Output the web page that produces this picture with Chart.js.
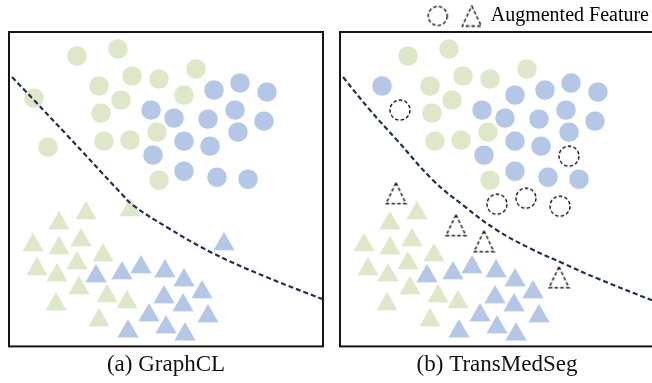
<!DOCTYPE html>
<html lang="en">
<head>
    <meta charset="UTF-8">
    <title>GraphCL vs TransMedSeg feature space</title>
    <script src="https://cdn.jsdelivr.net/npm/chart.js"></script>
    <style>
        html, body { margin: 0; padding: 0; background: #fff; overflow: hidden; width: 652px; height: 383px; }
        canvas { position: absolute; top: 0; }
        #panelA { left: 8px; }
        #panelB { left: 339px; }
    </style>
</head>
<body>
    <canvas id="panelA" width="316" height="383"></canvas>
    <canvas id="panelB" width="316" height="383"></canvas>

    <script>
        // positions, panel-local (origin at the box's top-left corner)
        const captions = ['(a) GraphCL', '(b) TransMedSeg'];
        const legendText = 'Augmented Feature';

        // (a) GraphCL
        const greenCirclesA = [[69,25],[110,18],[26,67],[91,55],[124,45],[151,48],[188,38],[113,69],[176,64],
                               [93,82],[40,116],[96,110],[122,109],[149,101],[151,149]];
        const blueCirclesA = [[206,59],[232,52],[259,61],[143,79],[166,87],[200,88],[227,79],[256,90],[230,101],
                              [176,110],[202,115],[145,124],[176,140],[209,146],[240,148]];
        const greenTrianglesA = [[78,182],[51,192],[122,179],[25,214],[51,217],[73,209],[95,224],[29,238],
                                 [49,244],[69,232],[71,257],[99,265],[119,271],[48,273],[91,289]];
        const blueTrianglesA = [[216,213],[88,245],[114,242],[133,236],[157,240],[176,249],[194,261],[156,266],
                                [175,274],[141,284],[158,296],[120,300],[177,303],[200,285]];
        const boundaryA = [[4,46],[26,69],[59,104],[113,162],[125,174],[159,196],[205,222],[259,246],[315,268]];

        // (b) TransMedSeg
        const greenCirclesB = [[69,25],[110,18],[91,55],[124,45],[151,48],[188,38],[113,69],
                               [93,82],[96,110],[122,109],[149,101],[151,149]];
        const blueCirclesB = [[43,55],[176,64],[206,59],[232,52],[259,61],[143,79],[166,87],[200,88],[227,79],
                              [256,90],[230,101],[176,110],[202,115],[145,124],[176,140],[209,146],[240,148]];
        const greenTrianglesB = [[78,182],[51,192],[25,214],[51,217],[73,209],[95,224],[29,238],
                                 [49,244],[69,232],[71,257],[99,265],[119,271],[48,273],[91,289]];
        const blueTrianglesB = [[88,245],[114,242],[133,236],[157,240],[176,249],[194,261],[156,266],
                                [175,274],[141,284],[158,296],[120,300],[177,303],[200,285]];
        const augCirclesB = [[61,79],[230,125],[158,173],[187,167],[221,175]];
        const augTrianglesB = [[57,162],[117,194],[145,210],[220,246]];
        const boundaryB = [[4,46],[31,79],[58,109],[94,149],[124,174],[158,199],[191,217],[224,232],[258,247],[313,269]];

        const GREEN = '#dfe7c9';
        const BLUE = '#b4c7e7';
        const LINE = '#1f3052';
        const SERIF = "'Liberation Serif', 'DejaVu Serif', serif";

        const toXY = pts => pts.map(([x, y]) => ({x, y}));

        // dashed outline markers used as point styles
        function dashedCircle(r) {
            const c = document.createElement('canvas');
            c.width = c.height = Math.ceil(2 * r + 4);
            const g = c.getContext('2d');
            g.strokeStyle = '#111';
            g.lineWidth = 1.4;
            g.setLineDash([3.5, 2.2]);
            g.beginPath();
            g.arc(c.width / 2, c.height / 2, r, 0, Math.PI * 2);
            g.stroke();
            return c;
        }

        function dashedTriangle(w, h) {
            const c = document.createElement('canvas');
            c.width = w + 3;
            c.height = h + 3;
            const g = c.getContext('2d');
            g.strokeStyle = '#111';
            g.lineWidth = 1.4;
            g.setLineDash([3.5, 2.2]);
            g.beginPath();
            g.moveTo(c.width / 2, 1.5);
            g.lineTo(c.width - 1.5, h + 1.5);
            g.lineTo(1.5, h + 1.5);
            g.closePath();
            g.stroke();
            return c;
        }

        const circleMark = dashedCircle(10);
        const triangleMark = dashedTriangle(20, 21);
        const legendCircle = dashedCircle(9.5);
        const legendTriangle = dashedTriangle(19, 20);

        // box around each panel
        const frame = {
            id: 'frame',
            afterDraw(chart) {
                const {ctx, chartArea: a} = chart;
                ctx.save();
                ctx.strokeStyle = '#151515';
                ctx.lineWidth = 2;
                ctx.strokeRect(a.left + 1, a.top + 1, a.right - a.left - 2, a.bottom - a.top - 2);
                ctx.restore();
            }
        };

        function boundary(pts) {
            return {
                type: 'line',
                data: toXY(pts),
                borderColor: LINE,
                borderWidth: 2.2,
                borderDash: [5, 3],
                tension: 0.4,
                pointRadius: 0,
                fill: false
            };
        }

        function circles(pts, color) {
            return { data: toXY(pts), pointStyle: 'circle', pointRadius: 10.2, backgroundColor: color,
                     borderColor: '#fff', borderWidth: 0.8 };
        }

        function triangles(pts, color) {
            return { data: toXY(pts), pointStyle: 'triangle', pointRadius: 13, backgroundColor: color,
                     borderColor: '#fff', borderWidth: 0.8 };
        }

        function marks(pts, style) {
            return { data: toXY(pts), pointStyle: style, pointRadius: 10, backgroundColor: 'transparent',
                     borderColor: '#111', borderWidth: 0 };
        }

        function makePanel(id, datasets, caption, withLegend) {
            return new Chart(document.getElementById(id), {
                type: 'scatter',
                data: { datasets },
                plugins: [frame],
                options: {
                    responsive: false,
                    animation: false,
                    events: [],
                    layout: { autoPadding: false, padding: { top: withLegend ? 0 : 31, left: 0, right: 0, bottom: 0 } },
                    scales: {
                        x: { type: 'linear', min: 0, max: 316, display: false },
                        y: { type: 'linear', min: 0, max: 316, reverse: true, display: false }
                    },
                    plugins: {
                        tooltip: { enabled: false },
                        legend: {
                            display: withLegend,
                            position: 'top',
                            align: 'end',
                            maxHeight: 31,
                            labels: {
                                usePointStyle: true,
                                boxWidth: 18,
                                padding: 6,
                                color: '#111',
                                font: { family: SERIF, size: 20 },
                                generateLabels: () => [
                                    { text: '', pointStyle: legendCircle, fillStyle: 'transparent',
                                      strokeStyle: '#111', lineWidth: 0, hidden: false },
                                    { text: legendText, pointStyle: legendTriangle, fillStyle: 'transparent',
                                      strokeStyle: '#111', lineWidth: 0, hidden: false }
                                ]
                            }
                        },
                        title: {
                            display: true,
                            text: caption,
                            position: 'bottom',
                            color: '#111',
                            font: { family: SERIF, size: 23, weight: 'normal' },
                            padding: { top: 4, bottom: 4 }
                        }
                    }
                }
            });
        }

        makePanel('panelA', [
            boundary(boundaryA),
            circles(greenCirclesA, GREEN),
            circles(blueCirclesA, BLUE),
            triangles(greenTrianglesA, GREEN),
            triangles(blueTrianglesA, BLUE)
        ], captions[0], false);

        makePanel('panelB', [
            boundary(boundaryB),
            marks(augCirclesB, circleMark),
            marks(augTrianglesB, triangleMark),
            circles(greenCirclesB, GREEN),
            circles(blueCirclesB, BLUE),
            triangles(greenTrianglesB, GREEN),
            triangles(blueTrianglesB, BLUE)
        ], captions[1], true);
    </script>
</body>
</html>
